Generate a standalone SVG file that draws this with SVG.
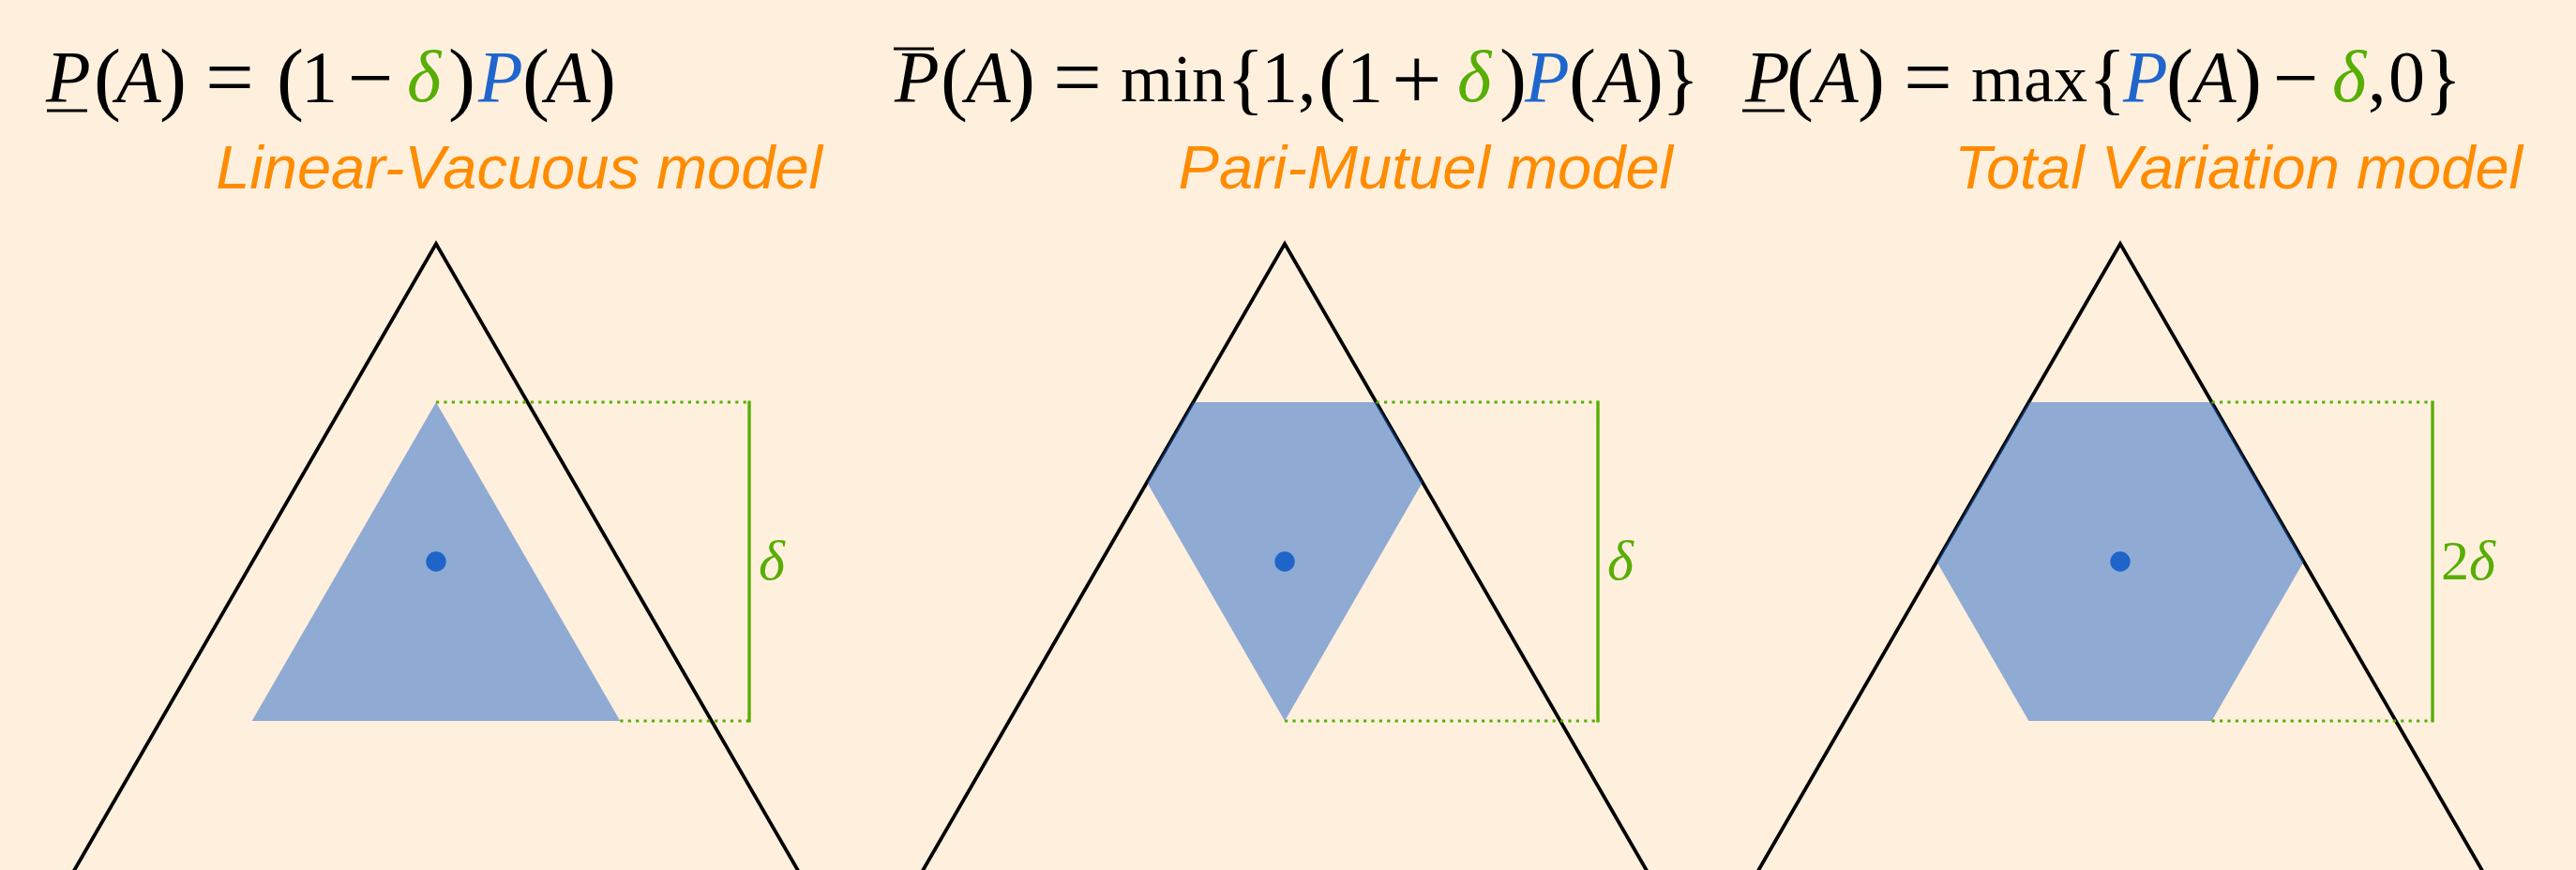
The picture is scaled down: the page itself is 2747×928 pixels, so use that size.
<svg xmlns="http://www.w3.org/2000/svg" width="2747" height="928" viewBox="0 0 2747 928">
<style>
.f{font-family:"Liberation Serif","Times New Roman",serif;font-size:78px;fill:#000}
.i{font-style:italic}
.pp{font-size:87px}
.br{font-size:84px}
.eq{font-size:92px}
.pl{font-size:95px}
.mi{font-size:86px}
.fn{font-size:72px}
.g{fill:#58AE04}
.b{fill:#1F66CC}
.lab{font-family:"Liberation Sans",Arial,sans-serif;font-style:italic;font-size:65px;fill:#FF8C00;text-anchor:end}
.dl{font-family:"Liberation Serif","Times New Roman",serif;font-size:60px;fill:#58AE04}
.outer{fill:none;stroke:#000;stroke-width:3.8;stroke-linejoin:miter}
.set{fill:#1F64C8;fill-opacity:0.5}
.dot{fill:#1F64C8}
.dots{stroke:#58AE04;stroke-width:3.2;stroke-dasharray:3.2 5.2;fill:none}
.gl{stroke:#58AE04;stroke-width:3.4;fill:none}
.bar{stroke:#000;stroke-width:2.8}
</style>
<rect width="2747" height="928" fill="#FFF0DE"/>

<g id="formula-lv">
<text class="f" y="108"><tspan class="i" x="49">P</tspan><tspan class="pp" x="100" y="112">(</tspan><tspan class="i" x="124" y="108">A</tspan><tspan class="pp" x="170" y="112">)</tspan><tspan class="eq" x="219" y="113">=</tspan><tspan class="pp" x="295" y="112">(</tspan><tspan x="321" y="108">1</tspan><tspan class="mi" x="371" y="112">−</tspan><tspan class="i g" x="434" y="108">δ</tspan><tspan class="pp" x="478" y="112">)</tspan><tspan class="i b" x="510" y="108">P</tspan><tspan class="pp" x="557" y="112">(</tspan><tspan class="i" x="582" y="108">A</tspan><tspan class="pp" x="628" y="112">)</tspan></text>
<line class="bar" x1="50" y1="118" x2="93" y2="118"/>
<text class="lab" x="877" y="201">Linear-Vacuous model</text>
</g>

<g id="formula-pm">
<text class="f" y="108"><tspan class="i" x="954">P</tspan><tspan class="pp" x="1003" y="112">(</tspan><tspan class="i" x="1030" y="108">A</tspan><tspan class="pp" x="1075" y="112">)</tspan><tspan class="eq" x="1123" y="113">=</tspan><tspan class="fn" x="1195" y="108">min</tspan><tspan class="br" x="1308" y="112">{</tspan><tspan x="1345" y="108">1</tspan><tspan x="1384">,</tspan><tspan class="pp" x="1406" y="112">(</tspan><tspan x="1436" y="108">1</tspan><tspan class="pl" x="1484" y="116">+</tspan><tspan class="i g" x="1554" y="108">δ</tspan><tspan class="pp" x="1599" y="112">)</tspan><tspan class="i b" x="1626" y="108">P</tspan><tspan class="pp" x="1673" y="112">(</tspan><tspan class="i" x="1702" y="108">A</tspan><tspan class="pp" x="1745" y="112">)</tspan><tspan class="br" x="1772" y="112">}</tspan></text>
<line class="bar" x1="953" y1="52" x2="996" y2="52"/>
<text class="lab" x="1784" y="201">Pari-Mutuel model</text>
</g>

<g id="formula-tv">
<text class="f" y="108"><tspan class="i" x="1861">P</tspan><tspan class="pp" x="1905" y="112">(</tspan><tspan class="i" x="1934" y="108">A</tspan><tspan class="pp" x="1981" y="112">)</tspan><tspan class="eq" x="2030" y="113">=</tspan><tspan class="fn" x="2102" y="108">max</tspan><tspan class="br" x="2227" y="112">{</tspan><tspan class="i b" x="2264" y="108">P</tspan><tspan class="pp" x="2310" y="112">(</tspan><tspan class="i" x="2337" y="108">A</tspan><tspan class="pp" x="2383" y="112">)</tspan><tspan class="mi" x="2424" y="112">−</tspan><tspan class="i g" x="2487" y="108">δ</tspan><tspan x="2525">,</tspan><tspan x="2547">0</tspan><tspan class="br" x="2585" y="112">}</tspan></text>
<line class="bar" x1="1858" y1="118" x2="1903" y2="118"/>
<text class="lab" x="2690" y="201">Total Variation model</text>
</g>

<g id="panel-lv">
<polyline class="outer" points="37.8,1000 465,260 892.2,1000"/>
<polygon class="set" points="465,429 661.3,769 268.7,769"/>
<circle class="dot" cx="465" cy="599" r="10.7"/>
</g>

<g id="panel-pm">
<polyline class="outer" points="942.8,1000 1370,260 1797.2,1000"/>
<polygon class="set" points="1272.4,429 1467.6,429 1516.9,514.5 1370,769 1223.1,514.5"/>
<circle class="dot" cx="1370" cy="599" r="10.7"/>
</g>

<g id="panel-tv">
<polyline class="outer" points="1833.8,1000 2261,260 2688.2,1000"/>
<polygon class="set" points="2163.4,429 2358.6,429 2456.7,599 2358.6,769 2163.4,769 2065.3,599"/>
<circle class="dot" cx="2261" cy="599" r="10.7"/>
</g>

<g id="connectors">
<line class="dots" x1="465" y1="429" x2="799" y2="429"/>
<line class="dots" x1="661.3" y1="769" x2="799" y2="769"/>
<line class="gl" x1="799" y1="427.5" x2="799" y2="770.5"/>
<line class="dots" x1="1467.6" y1="429" x2="1704" y2="429"/>
<line class="dots" x1="1370" y1="769" x2="1704" y2="769"/>
<line class="gl" x1="1704" y1="427.5" x2="1704" y2="770.5"/>
<line class="dots" x1="2358.6" y1="429" x2="2594" y2="429"/>
<line class="dots" x1="2358.6" y1="769" x2="2594" y2="769"/>
<line class="gl" x1="2594" y1="427.5" x2="2594" y2="770.5"/>
</g>

<g id="labels">
<text class="dl" x="809" y="618" font-style="italic">δ</text>
<text class="dl" x="1714" y="618" font-style="italic">δ</text>
<text class="dl" x="2603" y="618">2<tspan font-style="italic">δ</tspan></text>
</g>
</svg>
